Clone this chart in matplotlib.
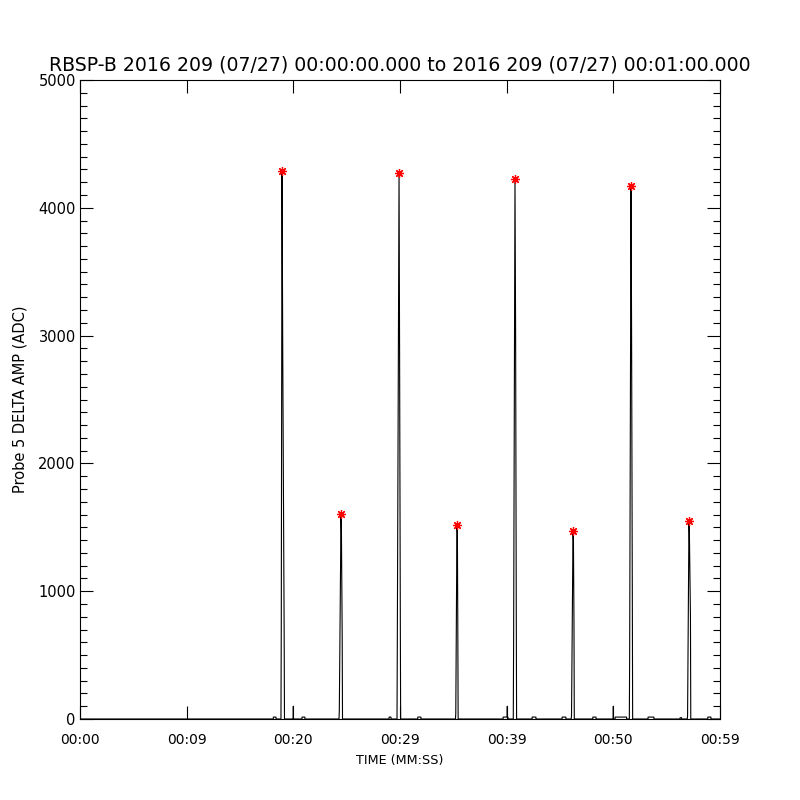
import matplotlib
matplotlib.use("Agg")
import matplotlib.pyplot as plt
from matplotlib.ticker import MultipleLocator

# Probe 5 delta amplitude trace (seconds after 00:00:00, ADC counts)
time_s = [
    0.0, 18.12, 18.13, 18.37, 18.38,
    18.84, 18.87, 18.94, 19.01, 19.14, 19.17,
    19.99, 20.0, 20.01,
    20.81, 20.82, 21.08, 21.09,
    24.28, 24.31, 24.47, 24.51, 24.58, 24.61,
    28.97, 28.98, 29.15, 29.16,
    29.72, 29.75, 29.91, 29.96, 30.03, 30.06,
    31.66, 31.67, 31.96, 31.97,
    35.20, 35.23, 35.34, 35.38, 35.42, 35.45,
    39.66, 39.67, 40.05, 40.06, 40.07, 40.12, 40.13,
    40.62, 40.65, 40.78, 40.84, 40.90, 40.93,
    42.38, 42.39, 42.74, 42.75,
    45.19, 45.20, 45.55, 45.56,
    46.05, 46.08, 46.22, 46.26, 46.31, 46.34,
    48.07, 48.08, 48.37, 48.38,
    49.99, 50.0, 50.01,
    50.16, 50.17, 51.24, 51.25,
    51.50, 51.53, 51.66, 51.71, 51.78, 51.81,
    53.25, 53.26, 53.80, 53.81,
    56.25, 56.26, 56.40, 56.41,
    56.93, 56.96, 57.09, 57.13, 57.23, 57.26,
    58.85, 58.86, 59.15, 59.16, 60.0,
]
amp_adc = [
    0, 0, 15, 15, 0,
    0, 730, 4288, 2817, 673, 0,
    0, 100, 0,
    0, 15, 15, 0,
    0, 60, 1604, 1455, 660, 0,
    0, 15, 15, 0,
    0, 640, 4272, 2910, 770, 0,
    0, 15, 15, 0,
    0, 45, 1518, 1455, 700, 0,
    0, 15, 15, 100, 15, 15, 0,
    0, 565, 4225, 2980, 860, 0,
    0, 15, 15, 0,
    0, 15, 15, 0,
    0, 30, 1471, 1400, 750, 0,
    0, 15, 15, 0,
    0, 100, 0,
    0, 15, 15, 0,
    0, 490, 4171, 3050, 960, 0,
    0, 15, 15, 0,
    0, 10, 10, 0,
    0, 25, 1549, 1455, 805, 0,
    0, 15, 15, 0, 0,
]

# detected pulse peaks
peak_t = [18.94, 24.47, 29.91, 35.34, 40.78, 46.22, 51.66, 57.09]
peak_adc = [4288, 1604, 4272, 1518, 4225, 1471, 4171, 1549]

xtick_pos = [0, 10, 20, 30, 40, 50, 60]
xtick_labels = ["00:00", "00:09", "00:20", "00:29", "00:39", "00:50", "00:59"]

fig = plt.figure(figsize=(8, 8), dpi=100)
ax = fig.add_axes([0.1, 0.10125, 0.8, 0.79875])

ax.plot(time_s, amp_adc, color="black", linewidth=0.8)
ax.plot(peak_t, peak_adc, linestyle="none", marker=(8, 2, 0),
        markersize=6.5, color="red", markeredgewidth=0.9)

ax.set_xlim(0, 60)
ax.set_ylim(0, 5000)
ax.set_xticks(xtick_pos)
ax.set_xticklabels(xtick_labels)
ax.yaxis.set_major_locator(MultipleLocator(1000))
ax.yaxis.set_minor_locator(MultipleLocator(100))

ax.tick_params(axis="x", which="major", direction="in", length=9.5, width=0.8,
               top=True, labelsize=10, pad=10)
ax.tick_params(axis="y", which="major", direction="in", length=9.5, width=0.8,
               right=True, labelsize=10.5, pad=3)
ax.tick_params(axis="y", which="minor", direction="in", length=4.7, width=0.8,
               right=True)
for s in ax.spines.values():
    s.set_linewidth(0.8)

ax.set_title("RBSP-B 2016 209 (07/27) 00:00:00.000 to 2016 209 (07/27) 00:01:00.000",
             fontsize=13.6, pad=7)
ax.set_xlabel("TIME (MM:SS)", fontsize=9.2, labelpad=5)
ax.set_ylabel("Probe 5 DELTA AMP (ADC)", fontsize=10.5, labelpad=8)

fig.savefig("out.png", dpi=100)
